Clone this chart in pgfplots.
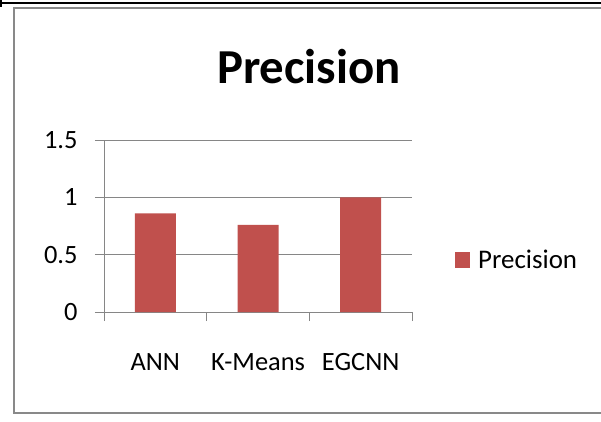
\documentclass[border=0pt]{standalone}
\usepackage{pgfplots}
\pgfplotsset{compat=1.18}
\usepackage{fontspec}
\setmainfont{Carlito}
\definecolor{barred}{HTML}{C0504D}
\definecolor{gridgray}{HTML}{868686}
\definecolor{bordergray}{HTML}{898989}
\begin{document}
\begin{tikzpicture}[x=1bp,y=1bp]
\useasboundingbox (0,0) rectangle (601,421);
\fill[white] (0,0) rectangle (601,421);
\draw[bordergray,line width=2.2bp] (14,8) rectangle (605,413);
\draw[black,line width=1.6bp] (0,418) -- (601,418);
\draw[black,line width=1.6bp] (1,421) -- (1,414);
\node[font=\fontsize{49}{54}\selectfont\bfseries,anchor=center] at (309,354) {Precision};
\begin{axis}[
  at={(104bp,109bp)}, anchor=south west,
  scale only axis, width=308bp, height=172bp,
  xmin=-0.5, xmax=2.5, ymin=0, ymax=1.5,
  ytick={0,0.5,1,1.5},
  yticklabels={0,0.5,1,1.5},
  ymajorgrids, grid style={gridgray, line width=0.9bp},
  axis x line*=bottom, axis y line*=left,
  axis line style={gridgray, line width=0.9bp},
  x axis line style={-}, y axis line style={-},
  tick style={gridgray, line width=0.9bp},
  tick align=outside,
  major tick length=9bp,
  xtick={-0.5,0.5,1.5,2.5},
  xticklabels={},
  extra x ticks={0,1,2},
  extra x tick labels={ANN,K-Means,EGCNN},
  extra x tick style={major tick length=0pt, xticklabel style={yshift=-38bp}},
  tick label style={font=\fontsize{26.5}{30}\selectfont, text=black},
  yticklabel style={xshift=-14bp},
  /pgf/number format/assume math mode=true,
  legend style={at={(1,0.302)}, anchor=west, xshift=43bp, draw=none, fill=none,
     font=\fontsize{27}{30}\selectfont, inner sep=0pt,
     legend cell align=left, nodes={inner xsep=2bp}},
  legend image code/.code={\fill[barred] (0bp,-8bp) rectangle (15bp,8bp);},
  clip=false,
]
\addplot[ybar, bar width=41bp, fill=barred, draw=none] coordinates {(0,0.86) (1,0.76) (2,1.0)};
\addlegendentry{\hspace{6bp}Precision}
\end{axis}
\end{tikzpicture}
\end{document}
